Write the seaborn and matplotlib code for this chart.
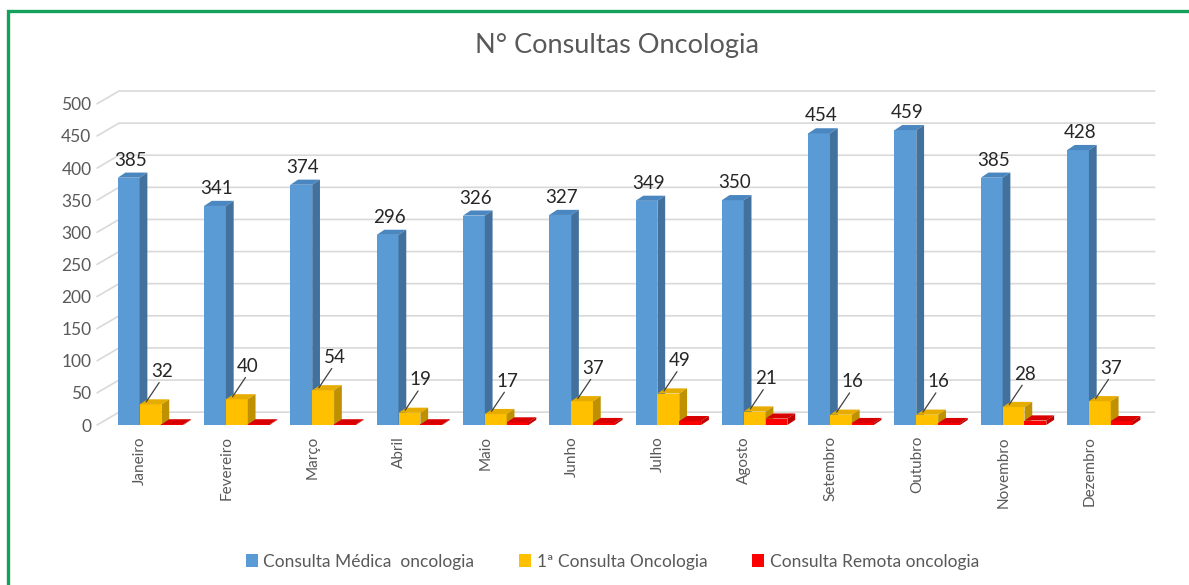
import numpy as np
import pandas as pd
import matplotlib
matplotlib.use('Agg')
import matplotlib.pyplot as plt
import seaborn as sns
from matplotlib.patches import Polygon, Rectangle, Patch

# data
meses = ['Janeiro', 'Fevereiro', 'Março', 'Abril', 'Maio', 'Junho',
         'Julho', 'Agosto', 'Setembro', 'Outubro', 'Novembro', 'Dezembro']
series = ['Consulta Médica  oncologia', '1ª Consulta Oncologia', 'Consulta Remota oncologia']
medica = [385, 341, 374, 296, 326, 327, 349, 350, 454, 459, 385, 428]
primeira = [32, 40, 54, 19, 17, 37, 49, 21, 16, 16, 28, 37]
remota = [1, 1, 1, 1, 4, 3, 6, 10, 3, 3, 7, 6]

front = ['#5B9BD5', '#FFC000', '#FF0000']
side = ['#41719C', '#BF9000', '#C00000']
top = ['#4A87C0', '#E6AD00', '#D80000']

df = pd.DataFrame({
    'mes': meses * 3,
    'serie': np.repeat(series, len(meses)),
    'valor': medica + primeira + remota,
})

sns.set_style('white')
plt.rcParams['font.family'] = ['Lato', 'DejaVu Sans']

fig = plt.figure(figsize=(11.89, 5.85), dpi=100)
ax = fig.add_axes([0.0816, 0.2735, 0.871, 0.549])

sns.barplot(data=df, x='mes', y='valor', hue='serie', order=meses,
            hue_order=series, palette=front, width=0.76, gap=0,
            saturation=1, ax=ax, legend=False, zorder=3, linewidth=0)

shift = 0.12
ax.set_xlim(-0.5 - shift, 11.5 - shift)
ax.set_ylim(0, 500)

# back wall gridlines with a perspective slant
gdx, gdy = 0.255, 20
x_lo, x_hi = -0.5 - shift, 11.5 - shift
for v in range(0, 501, 50):
    ax.plot([x_lo, x_lo + gdx, x_hi + gdx], [v, v + gdy, v + gdy],
            color='#D9D9D9', lw=1.2, zorder=0, clip_on=False)

# fake 3D faces on each bar
dx, dy = 0.09, 8
n = len(meses)
for i, p in enumerate(ax.patches):
    s = i // n
    x0 = p.get_x()
    x1 = x0 + p.get_width()
    h = p.get_height()
    z = 3 + s * 0.1 + (i % n) * 0.001
    p.set_zorder(z)
    ax.add_patch(Polygon([(x0, h), (x1, h), (x1 + dx, h + dy), (x0 + dx, h + dy)],
                         closed=True, fc=top[s], ec='none', zorder=z, clip_on=False))
    ax.add_patch(Polygon([(x1, 0), (x1 + dx, dy), (x1 + dx, h + dy), (x1, h)],
                         closed=True, fc=side[s], ec='none', zorder=z, clip_on=False))
    xc = x0 + p.get_width() / 2
    if s == 0:
        ax.text(xc + 0.02, h + 14, str(int(h)), ha='center', va='bottom',
                fontsize=13.5, color='#262626', zorder=10)
    elif s == 1:
        ax.plot([xc - 0.05, xc + 0.1], [h + 4, h + 34], color='#404040',
                lw=0.9, zorder=10)
        ax.text(xc + 0.13, h + 38, str(int(h)), ha='center', va='bottom',
                fontsize=13.5, color='#262626', zorder=10)

ax.set_xlabel('')
ax.set_ylabel('')
ax.set_yticks(range(0, 501, 50))
ax.tick_params(axis='y', length=0, labelsize=12.5, labelcolor='#595959', pad=4)
ax.tick_params(axis='x', length=0, labelsize=11, labelcolor='#595959', pad=8)
ax.set_xticks([i - shift for i in range(n)])
ax.set_xticklabels(meses, rotation=90)
for lab in ax.get_xticklabels():
    lab.set_va('top')
sns.despine(ax=ax, left=True, bottom=True)
ax.patch.set_alpha(0)

fig.text(0.519, 0.923, 'N° Consultas Oncologia', ha='center', va='center',
         fontsize=19.5, color='#595959')

handles = [Patch(facecolor=c, edgecolor='none') for c in front]
fig.legend(handles, series, loc='center', bbox_to_anchor=(0.515, 0.04), ncol=3,
           frameon=False, handlelength=0.7, handleheight=0.7, handletextpad=0.3,
           columnspacing=2.6, fontsize=12.5, labelcolor='#595959')

# green frame (only top and left edges fall inside the image)
fig.patches.append(Rectangle((0.0067, -0.1), 1.2, 1.081, transform=fig.transFigure,
                             fill=False, ec='#12A05A', lw=2.4, zorder=20))

fig.savefig('out.png', dpi=100)
